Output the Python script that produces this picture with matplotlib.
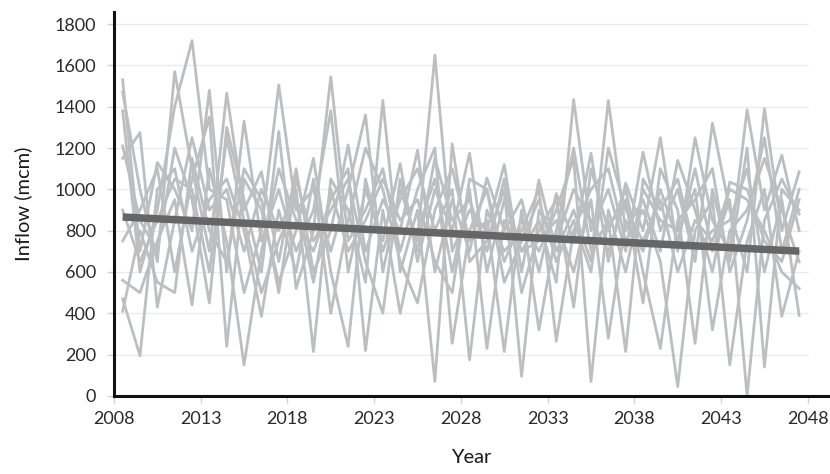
import numpy as np
import matplotlib.pyplot as plt

# inflow traces, one list per year (2008..2047), ten traces per year
years = list(range(2008, 2048))
inflow_by_year = [
    [1530, 1470, 1380, 1210, 1150, 750, 560, 470, 410, 900],
    [700, 1000, 600, 850, 1275, 900, 500, 195, 800, 650],
    [1130, 650, 900, 700, 430, 1100, 750, 1000, 550, 850],
    [1000, 1570, 1400, 1200, 850, 600, 950, 1100, 500, 1050],
    [800, 1100, 1720, 950, 1250, 1050, 440, 700, 1150, 1000],
    [1480, 700, 1000, 450, 900, 1350, 1100, 950, 800, 600],
    [600, 1465, 950, 1300, 1000, 240, 750, 1050, 650, 1250],
    [1330, 900, 500, 950, 700, 1050, 150, 800, 1100, 850],
    [750, 1085, 800, 600, 1000, 900, 700, 385, 950, 500],
    [1000, 650, 1505, 1280, 800, 550, 1100, 900, 500, 750],
    [700, 1100, 900, 520, 1000, 800, 850, 600, 1050, 950],
    [900, 600, 1000, 800, 215, 1150, 700, 1050, 750, 550],
    [1380, 800, 700, 1545, 1050, 600, 950, 400, 900, 1000],
    [600, 1215, 1000, 750, 900, 240, 1100, 850, 1050, 700],
    [1000, 700, 1360, 900, 550, 1050, 220, 1200, 650, 850],
    [750, 950, 600, 1100, 1430, 700, 900, 1000, 400, 1050],
    [1125, 800, 1000, 700, 600, 950, 400, 650, 1050, 850],
    [650, 1190, 750, 1000, 900, 1100, 800, 450, 700, 950],
    [1000, 600, 1650, 1200, 70, 800, 1050, 900, 1150, 650],
    [800, 950, 700, 255, 1220, 1000, 600, 1100, 850, 500],
    [1175, 700, 900, 800, 650, 175, 1000, 750, 950, 1050],
    [600, 1055, 800, 1000, 750, 900, 230, 850, 700, 1000],
    [950, 800, 1120, 650, 1000, 700, 850, 215, 1050, 550],
    [700, 950, 600, 850, 95, 800, 700, 900, 500, 750],
    [850, 600, 1045, 700, 900, 1000, 750, 320, 800, 950],
    [550, 980, 700, 900, 750, 265, 850, 800, 950, 650],
    [1435, 750, 900, 1150, 1000, 800, 600, 1200, 430, 850],
    [800, 1175, 650, 70, 850, 1000, 950, 700, 1100, 600],
    [1000, 650, 1430, 900, 700, 1100, 280, 850, 800, 1200],
    [700, 1030, 800, 600, 950, 750, 850, 215, 1000, 900],
    [1180, 800, 950, 1000, 450, 900, 700, 1050, 600, 750],
    [800, 1250, 700, 850, 1100, 650, 1000, 900, 230, 950],
    [1000, 700, 1140, 800, 900, 45, 750, 1050, 850, 600],
    [650, 1250, 900, 1000, 255, 800, 1100, 700, 950, 850],
    [1320, 850, 600, 320, 1000, 950, 700, 800, 1100, 750],
    [900, 700, 1035, 800, 650, 150, 950, 850, 600, 1000],
    [600, 1385, 1000, 900, 1200, 750, 0, 1100, 850, 950],
    [1390, 900, 750, 1150, 140, 1000, 850, 600, 1250, 800],
    [800, 1165, 650, 900, 1000, 385, 1050, 950, 700, 600],
    [1085, 800, 950, 650, 900, 700, 880, 390, 1000, 520],
]
trend_years = [2008, 2047]
trend_values = [866, 701]

yticks = list(range(0, 1801, 200))
xticks = list(range(2008, 2049, 5))

plt.rcParams['font.family'] = ['Lato', 'DejaVu Sans']

fig = plt.figure(figsize=(8.3, 4.74), dpi=100)
ax = fig.add_axes([0.1373, 0.1646, 0.86, 0.81])

data = np.array(inflow_by_year)
x = np.array(years) + 0.5
for k in range(data.shape[1]):
    ax.plot(x, data[:, k], color='#bcbfc1', lw=2.0, zorder=2)

ax.plot(np.array(trend_years) + 0.5, trend_values, color='#666666', lw=5.4,
        solid_capstyle='butt', zorder=3)

ax.hlines(yticks[1:], 2008, 2048, color='#ebebeb', lw=1, zorder=1)

ax.set_xlim(2008, 2049.15)
ax.set_ylim(0, 1858)
ax.set_xticks(xticks)
ax.set_yticks(yticks)
ax.tick_params(axis='both', labelsize=13, colors='#d0d0d0', labelcolor='#2a2a2a',
               length=5, width=1)
ax.tick_params(axis='x', pad=6)
ax.tick_params(axis='y', pad=8)

for s in ['top', 'right']:
    ax.spines[s].set_visible(False)
for s in ['left', 'bottom']:
    ax.spines[s].set_linewidth(2.2)
    ax.spines[s].set_color('#111111')

ax.set_xlabel('Year', fontsize=14.5, color='#1a1a1a', labelpad=16)
ax.set_ylabel('Inflow (mcm)', fontsize=14.5, color='#1a1a1a', labelpad=16)

fig.savefig('out.png', dpi=100)
